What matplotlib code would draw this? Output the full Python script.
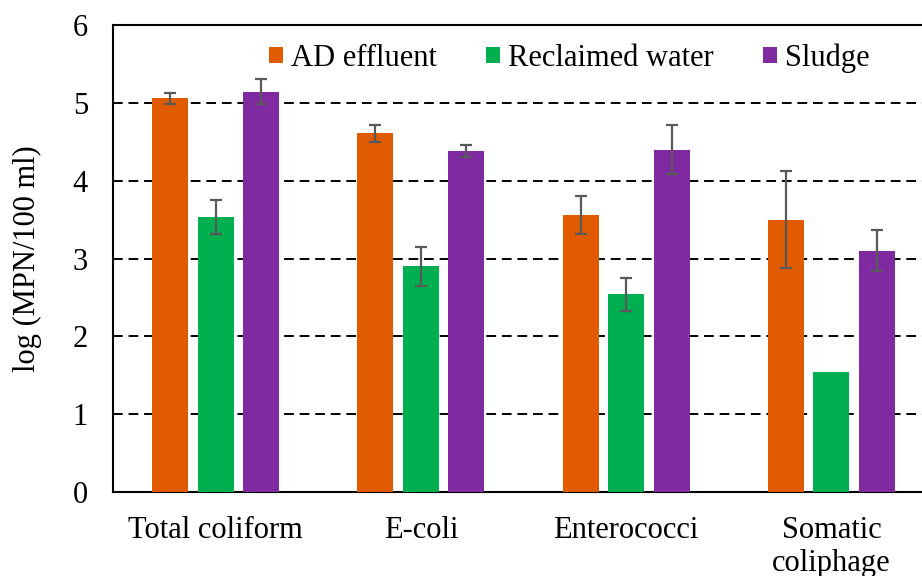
import matplotlib
matplotlib.use("Agg")
import matplotlib.pyplot as plt
import numpy as np

# data
categories = ["Total coliform", "E-coli", "Enterococci", "Somatic\ncoliphage"]
series = ["AD effluent", "Reclaimed water", "Sludge"]
ad_effluent = [5.06, 4.61, 3.56, 3.50]
ad_err = [0.07, 0.11, 0.24, 0.62]
reclaimed = [3.53, 2.90, 2.54, 1.54]
reclaimed_err = [0.22, 0.25, 0.21, 0.0]
sludge = [5.14, 4.38, 4.40, 3.10]
sludge_err = [0.16, 0.08, 0.32, 0.26]
colors = ["#E05A00", "#00B050", "#7F2AA0"]

plt.rcParams["font.family"] = ["Liberation Serif", "DejaVu Serif"]

fig = plt.figure(figsize=(9.22, 5.76), dpi=100)
ax = fig.add_axes([113 / 922, 84 / 576, 821 / 922, 467 / 576])

x = np.arange(len(categories))
width = 0.175
offset = 0.222
values = [ad_effluent, reclaimed, sludge]
errors = [ad_err, reclaimed_err, sludge_err]

for i, (vals, errs) in enumerate(zip(values, errors)):
    pos = x + (i - 1) * offset
    ax.bar(pos, vals, width, color=colors[i], label=series[i], zorder=3)
    yerr = np.array(errs)
    mask = yerr > 0
    ax.errorbar(pos[mask], np.array(vals)[mask], yerr=yerr[mask], fmt="none",
                ecolor="#595959", elinewidth=1.6, capsize=4.5, capthick=1.6,
                zorder=4)

ax.set_xlim(-0.5, 3.5)
ax.set_ylim(0, 6)
ax.set_yticks(range(0, 7))
ax.set_xticks(x)
ax.set_xticklabels(categories)
ax.tick_params(axis="both", length=0, labelsize=22)
ax.tick_params(axis="y", pad=18)
ax.tick_params(axis="x", pad=17)
ax.set_ylabel("log (MPN/100 ml)", fontsize=22, labelpad=22)

for yv in range(1, 6):
    ax.axhline(yv, color="black", linestyle=(0, (5, 3)), linewidth=1.4, zorder=1)

for s in ["left", "top", "bottom"]:
    ax.spines[s].set_linewidth(1.5)
ax.spines["right"].set_visible(False)

ax.legend(loc="center left", bbox_to_anchor=(269 / 922, 1 - 58 / 576),
          bbox_transform=fig.transFigure, ncol=3, frameon=False, fontsize=22,
          handlelength=0.46, handleheight=0.46, handletextpad=0.27,
          columnspacing=1.6, borderpad=0, borderaxespad=0)

fig.savefig("out.png", dpi=100)
